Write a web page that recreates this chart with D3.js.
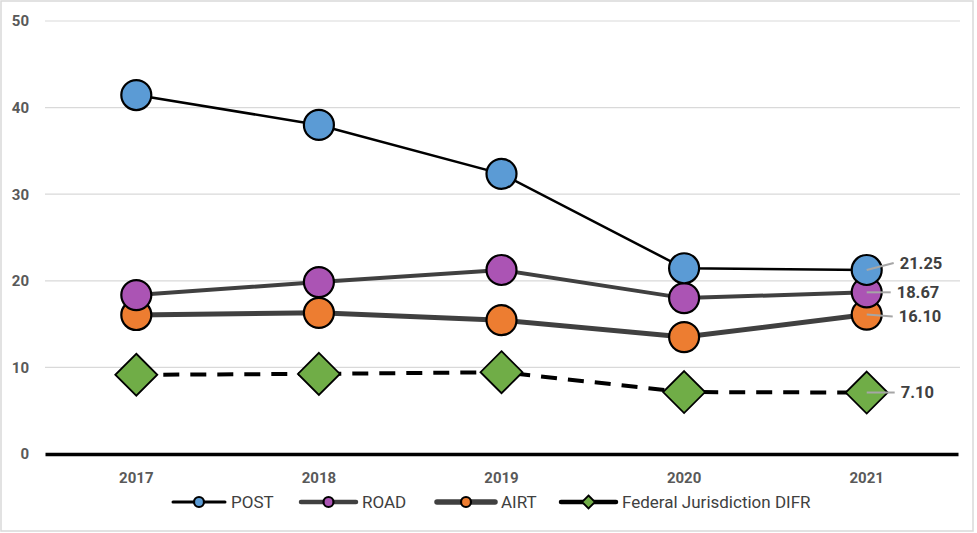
<!DOCTYPE html>
<html>
<head>
<meta charset="utf-8">
<script src="https://cdn.jsdelivr.net/npm/d3@7"></script>
<style>
  body { margin: 0; background: #fff; }
  svg { font-family: "Roboto", sans-serif; }
</style>
</head>
<body>
<div id="plot"></div>
<script>
// chart data
const years = ["2017", "2018", "2019", "2020", "2021"];
const post = [41.45, 38.0, 32.35, 21.45, 21.25];
const road = [18.35, 19.85, 21.25, 18.0, 18.67];
const airt = [16.05, 16.3, 15.45, 13.5, 16.10];
const difr = [9.15, 9.25, 9.45, 7.15, 7.10];
const yTicks = [0, 10, 20, 30, 40, 50];

const width = 977, height = 533;
const margin = { top: 21, right: 19, bottom: 79, left: 45 };

const svg = d3.select("#plot").append("svg")
    .attr("width", width)
    .attr("height", height);

svg.append("rect")
    .attr("x", 1).attr("y", 1)
    .attr("width", width - 5).attr("height", height - 3)
    .attr("fill", "#fff")
    .attr("stroke", "#d9d9d9")
    .attr("stroke-width", 1.5);

const x = d3.scaleBand()
    .domain(years)
    .range([margin.left, width - margin.right]);

const y = d3.scaleLinear()
    .domain([0, 50])
    .range([height - margin.bottom, margin.top]);

const cx = d => x(d) + x.bandwidth() / 2;

// gridlines
svg.append("g")
    .selectAll("line")
    .data(yTicks.filter(t => t > 0))
    .join("line")
    .attr("x1", margin.left).attr("x2", width - margin.right + 2)
    .attr("y1", d => y(d)).attr("y2", d => y(d))
    .attr("stroke", "#d9d9d9")
    .attr("stroke-width", 1.2);

// y axis labels
const yAxis = svg.append("g")
    .attr("transform", `translate(${margin.left},0)`)
    .call(d3.axisLeft(y).tickValues(yTicks).tickSize(0).tickPadding(16));
yAxis.select(".domain").remove();
yAxis.selectAll("text")
    .attr("fill", "#595959")
    .style("font-size", "15px")
    .style("font-weight", "bold")
    .style("font-family", "Roboto, sans-serif");

// x axis
const xAxis = svg.append("g")
    .attr("transform", `translate(0,${y(0)})`)
    .call(d3.axisBottom(x).tickSize(0).tickPadding(18));
xAxis.select(".domain")
    .attr("stroke", "#000")
    .attr("stroke-width", 3.5);
xAxis.selectAll("text")
    .attr("fill", "#595959")
    .style("font-size", "15px")
    .style("font-weight", "bold")
    .style("font-family", "Roboto, sans-serif");

const series = [
  { name: "POST", values: post, color: "#5b9bd5", line: "#000", lw: 2.5, dash: null, shape: "circle" },
  { name: "ROAD", values: road, color: "#ab54b4", line: "#404040", lw: 4, dash: null, shape: "circle" },
  { name: "AIRT", values: airt, color: "#ed7d31", line: "#404040", lw: 5, dash: null, shape: "circle" },
  { name: "Federal Jurisdiction DIFR", values: difr, color: "#70ad47", line: "#000", lw: 4, dash: "16,11", shape: "diamond" }
];

const line = d3.line()
    .x((d, i) => cx(years[i]))
    .y(d => y(d));

// draw lines first (bottom series first)
series.slice().reverse().forEach(s => {
  svg.append("path")
      .datum(s.values)
      .attr("d", line)
      .attr("fill", "none")
      .attr("stroke", s.line)
      .attr("stroke-width", s.lw)
      .attr("stroke-dasharray", s.dash);
});

const diamond = r => `M0,${-r}L${r},0L0,${r}L${-r},0Z`;

series.slice().reverse().forEach(s => {
  const g = svg.append("g");
  if (s.shape === "circle") {
    g.selectAll("circle")
        .data(s.values)
        .join("circle")
        .attr("cx", (d, i) => cx(years[i]))
        .attr("cy", d => y(d))
        .attr("r", 15)
        .attr("fill", s.color)
        .attr("stroke", "#000")
        .attr("stroke-width", 2.2);
  } else {
    g.selectAll("path")
        .data(s.values)
        .join("path")
        .attr("transform", (d, i) => `translate(${cx(years[i])},${y(d)})`)
        .attr("d", diamond(21))
        .attr("fill", s.color)
        .attr("stroke", "#000")
        .attr("stroke-width", 1.8);
  }
});

// end labels with leader lines
const endLabels = [
  { v: post[4], dx: 33, dy: -7 },
  { v: road[4], dx: 30, dy: 0 },
  { v: airt[4], dx: 32, dy: 2 },
  { v: difr[4], dx: 34, dy: 0 }
];
const last = cx(years[4]);
endLabels.forEach(l => {
  const py = y(l.v);
  svg.append("line")
      .attr("x1", last).attr("y1", py)
      .attr("x2", last + l.dx - 6).attr("y2", py + l.dy)
      .attr("stroke", "#a6a6a6")
      .attr("stroke-width", 2);
  svg.append("text")
      .attr("x", last + l.dx)
      .attr("y", py + l.dy)
      .attr("dy", "0.35em")
      .attr("fill", "#404040")
      .style("font-size", "16.5px")
      .style("font-weight", "bold")
      .text(l.v.toFixed(2));
});

// legend
const legendX = [173, 301, 437, 561];
const legendLen = [52, 55, 58, 55];
const legendY = 502;
series.forEach((s, i) => {
  const g = svg.append("g").attr("transform", `translate(${legendX[i]},${legendY})`);
  const len = legendLen[i];
  g.append("line")
      .attr("x1", 0).attr("x2", len)
      .attr("stroke", s.line)
      .attr("stroke-width", s.lw + 0.5)
      .attr("stroke-linecap", "round");
  if (s.shape === "circle") {
    g.append("circle")
        .attr("cx", len / 2).attr("r", 5)
        .attr("fill", s.color)
        .attr("stroke", "#000")
        .attr("stroke-width", 2.2);
  } else {
    g.append("path")
        .attr("transform", `translate(${len / 2},0)`)
        .attr("d", diamond(6.5))
        .attr("fill", s.color)
        .attr("stroke", "#000")
        .attr("stroke-width", 1.8);
  }
  g.append("text")
      .attr("x", len + 6)
      .attr("dy", "0.35em")
      .attr("fill", "#404040")
      .style("font-size", "17px")
      .text(s.name);
});
</script>
</body>
</html>
